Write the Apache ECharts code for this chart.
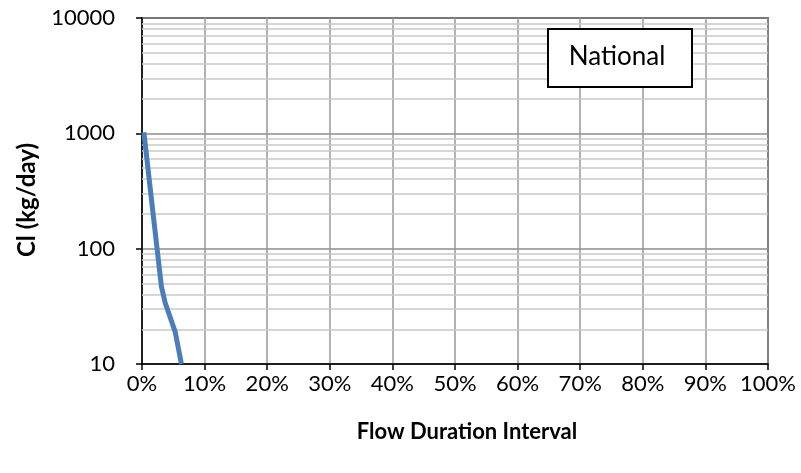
<!DOCTYPE html>
<html>
<head>
<meta charset="utf-8">
<script src="https://cdn.jsdelivr.net/npm/echarts@6/dist/echarts.min.js"></script>
<style>
html,body{margin:0;padding:0;background:#fff;}
#chart{width:801px;height:473px;}
</style>
</head>
<body>
<div id="chart"></div>
<script>
// Data
var flowInterval = [0.003, 0.017, 0.031, 0.037, 0.053, 0.063];
var loadValues = [1020, 217, 47, 34, 19, 10];
var minorGridValues = [20,30,40,50,60,70,80,90,200,300,400,500,600,700,800,900,2000,3000,4000,5000,6000,7000,8000,9000];
var xAxisTitle = 'Flow Duration Interval';
var yAxisTitle = 'Cl (kg/day)';
var boxLabel = 'National';

var FONT = 'Lato';
var lineData = flowInterval.map(function(x, i){ return [x, loadValues[i]]; });

var chart = echarts.init(document.getElementById('chart'));
chart.setOption({
  animation: false,
  grid: {left: 142, right: 33, top: 18, bottom: 109, show: true, borderColor: '#000', borderWidth: 1.5, backgroundColor: 'transparent'},
  xAxis: {
    type: 'value', min: 0, max: 1, interval: 0.1,
    axisLine: {show: true, onZero: false, lineStyle: {color: '#000', width: 1.5}},
    axisTick: {show: true, length: 6, lineStyle: {color: '#000', width: 1.5}},
    axisLabel: {fontFamily: FONT, fontSize: 22, color: '#000', margin: 9,
      formatter: function(v){ return Math.round(v*100) + '%'; }},
    splitLine: {show: true, lineStyle: {color: '#999', width: 1.5}}
  },
  yAxis: {
    type: 'log', logBase: 10, min: 10, max: 10000,
    axisLine: {show: true, lineStyle: {color: '#000', width: 1.5}},
    axisTick: {show: true, length: 6, lineStyle: {color: '#000', width: 1.5}},
    axisLabel: {fontFamily: FONT, fontSize: 22, color: '#000', margin: 27,
      formatter: function(v){ return String(Math.round(v)); }},
    splitLine: {show: true, lineStyle: {color: '#8c8c8c', width: 1.5}}
  },
  series: [
    {
      type: 'line', data: [], silent: true,
      markLine: {
        silent: true, symbol: 'none', label: {show: false},
        lineStyle: {color: '#c8c8c8', width: 1.5, type: 'solid'},
        data: minorGridValues.map(function(v){ return {yAxis: v}; })
      }
    },
    {
      type: 'line', data: lineData, showSymbol: false, smooth: false,
      lineStyle: {color: '#4a7ebb', width: 5},
      z: 5
    }
  ],
  graphic: [
    {
      type: 'rect', left: 547, top: 28, z: 10,
      shape: {width: 144, height: 58},
      style: {fill: '#fff', stroke: '#000', lineWidth: 2}
    },
    {
      type: 'text', x: 617, y: 57, z: 11,
      style: {text: boxLabel, fontFamily: FONT, fontSize: 26, fill: '#000', align: 'center', verticalAlign: 'middle'}
    },
    {
      type: 'text', x: 467, y: 432, z: 11,
      style: {text: xAxisTitle, fontFamily: FONT, fontWeight: 'bold', fontSize: 22, fill: '#000', align: 'center', verticalAlign: 'middle'}
    },
    {
      type: 'text', x: 27, y: 200, z: 11, rotation: Math.PI / 2,
      style: {text: yAxisTitle, fontFamily: FONT, fontWeight: 'bold', fontSize: 24, fill: '#000', align: 'center', verticalAlign: 'middle'}
    }
  ]
});
</script>
</body>
</html>
